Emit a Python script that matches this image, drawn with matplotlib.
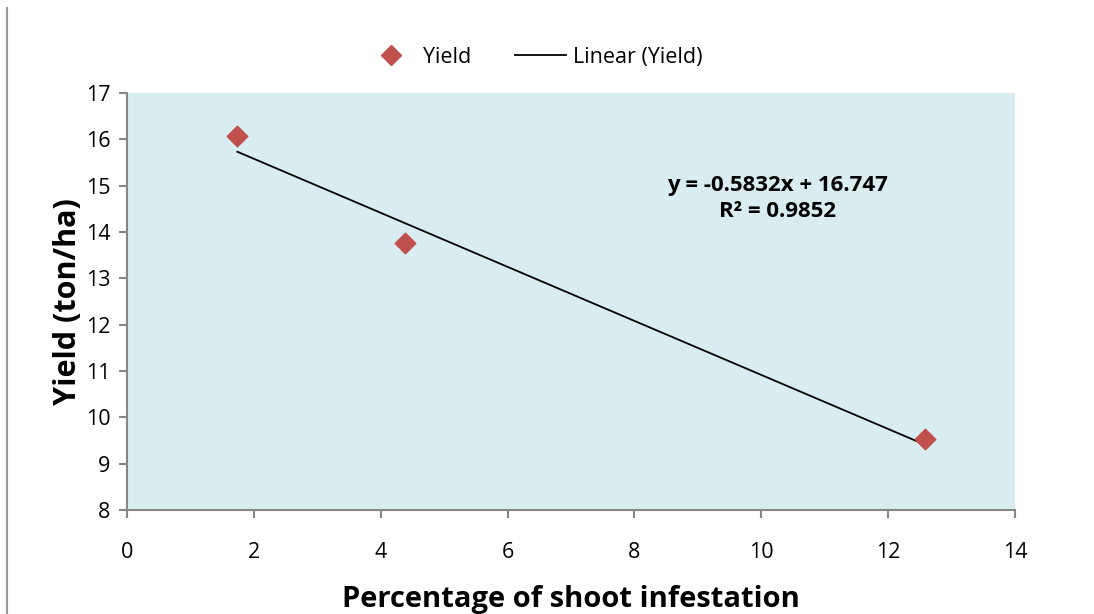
import matplotlib.pyplot as plt
from matplotlib.lines import Line2D
import numpy as np

# -------------------------
# DATA
# -------------------------

infestation = [1.74, 4.38, 12.58]
yield_ton = [16.08, 13.76, 9.53]

slope = -0.5832
intercept = 16.747
r2 = 0.9852

x_ticks = [0, 2, 4, 6, 8, 10, 12, 14]
y_ticks = [8, 9, 10, 11, 12, 13, 14, 15, 16, 17]

plt.rcParams['font.family'] = ['Open Sans', 'DejaVu Sans']

# -------------------------
# FIGURE
# -------------------------

fig = plt.figure(figsize=(10.94, 6.14), dpi=100)
ax = fig.add_axes([0.1161, 0.1694, 0.8117, 0.6791])
ax.set_facecolor('#d9edf1')

# trendline over the data range
xs = np.array([min(infestation), max(infestation)])
ax.plot(xs, slope * xs + intercept, color='black', lw=1.3, zorder=2)

ax.scatter(infestation, yield_ton, marker='D', s=110, color='#c0504d',
           edgecolors='#c0504d', zorder=3)

ax.set_xlim(0, 14)
ax.set_ylim(8, 17)
ax.set_xticks(x_ticks)
ax.set_yticks(y_ticks)

for side in ['top', 'right']:
    ax.spines[side].set_visible(False)
for side in ['left', 'bottom']:
    ax.spines[side].set_color('#868686')
    ax.spines[side].set_linewidth(1.5)

ax.tick_params(axis='both', direction='out', length=6, width=1.5,
               color='#868686', labelsize=15.5)
ax.tick_params(axis='x', pad=17)
ax.tick_params(axis='y', pad=6)

ax.set_xlabel('Percentage of shoot infestation', fontsize=21,
              fontweight='bold', labelpad=16)
ax.set_ylabel('Yield (ton/ha)', fontsize=22, fontweight='bold', labelpad=2)

ax.text(10.25, 14.73, 'y = -0.5832x + 16.747\nR² = 0.9852',
        ha='center', va='center', fontsize=16, fontweight='bold',
        linespacing=1.3)

# -------------------------
# LEGEND
# -------------------------

handles = [
    Line2D([], [], marker='D', ls='none', color='#c0504d', markersize=10),
    Line2D([], [], color='black', lw=1.3),
]
fig.legend(handles, ['Yield', 'Linear (Yield)'], loc='center',
           bbox_to_anchor=(0.488, 0.907), ncol=2, frameon=False,
           fontsize=15.5, handlelength=2.4, columnspacing=2.0,
           handletextpad=0.3)

# page border on the left
fig.add_artist(Line2D([0.006, 0.006], [0, 0.987], color='#9a9a9a', lw=1.5))

plt.savefig('out.png', dpi=100)
